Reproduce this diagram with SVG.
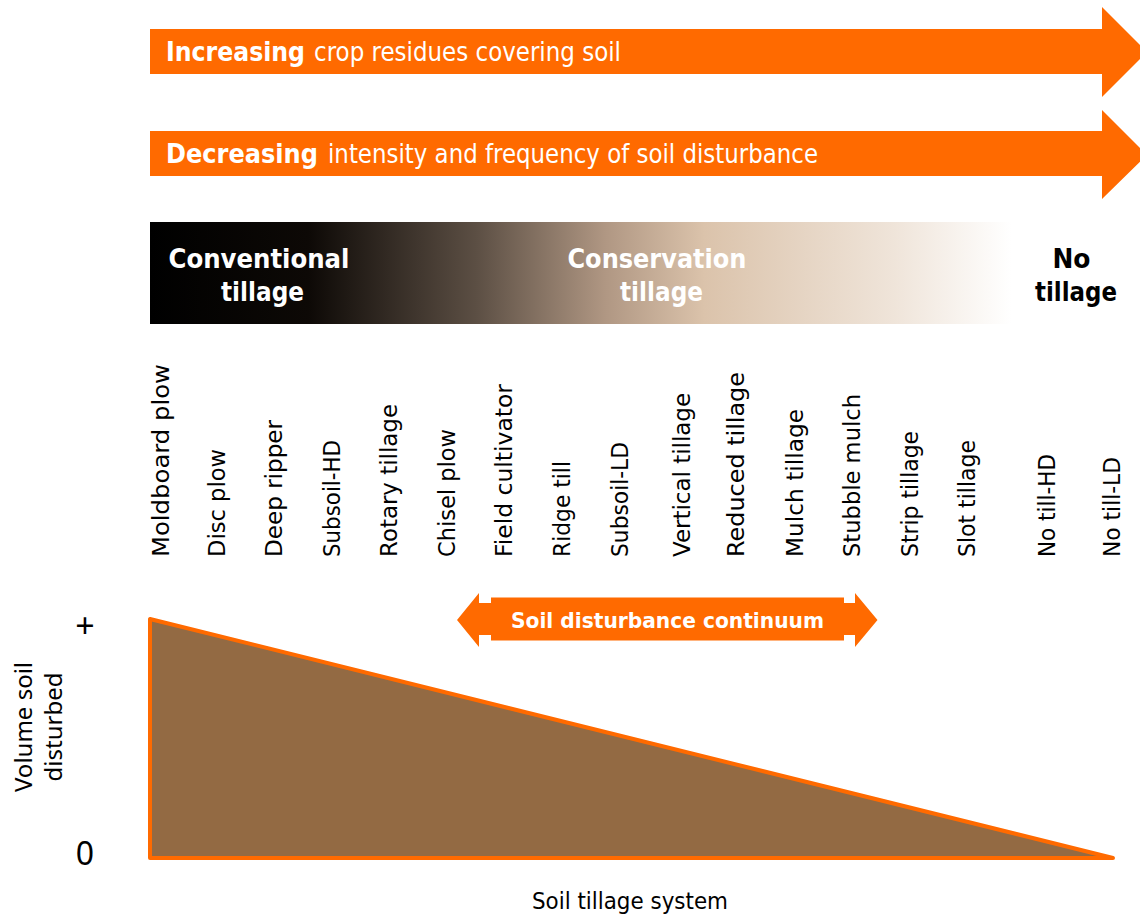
<svg xmlns="http://www.w3.org/2000/svg" width="1140" height="916" viewBox="0 0 1140 916">
  <style>
    .orange { fill: #ff6a00; }
    .band { font-family: "DejaVu Sans", "Liberation Sans", sans-serif; fill: #ffffff; }
    .bold { font-weight: bold; }
    .zone { font-family: "DejaVu Sans", "Liberation Sans", sans-serif; font-weight: bold; font-size: 26px; text-anchor: middle; }
    .sys { font-family: "DejaVu Sans", "Liberation Sans", sans-serif; font-size: 23px; fill: #000000; }
    .axis { font-family: "Noto Sans", "Liberation Sans", sans-serif; fill: #000000; }
  </style>
  <defs>
    <linearGradient id="tillGrad" x1="150" y1="0" x2="1140" y2="0" gradientUnits="userSpaceOnUse">
      <stop offset="0" stop-color="#000000"/>
      <stop offset="0.16" stop-color="#0d0906"/>
      <stop offset="0.33" stop-color="#5c4f44"/>
      <stop offset="0.46" stop-color="#b09783"/>
      <stop offset="0.56" stop-color="#dbc3ab"/>
      <stop offset="0.75" stop-color="#efe4d9"/>
      <stop offset="0.87" stop-color="#ffffff"/>
      <stop offset="1" stop-color="#ffffff"/>
    </linearGradient>
  </defs>

  <rect width="1140" height="916" fill="#ffffff"/>

  <!-- trend arrows -->
  <g id="arrow-residues">
    <polygon class="orange" points="150,29 1102,29 1102,7 1147,52 1102,97 1102,74 150,74"/>
    <text class="band" y="61" font-size="26">
      <tspan class="bold" x="166" textLength="139" lengthAdjust="spacingAndGlyphs">Increasing</tspan>
      <tspan x="314" textLength="307" lengthAdjust="spacingAndGlyphs">crop residues covering soil</tspan>
    </text>
  </g>
  <g id="arrow-disturbance">
    <polygon class="orange" points="150,131 1102,131 1102,110 1147,155 1102,199 1102,176 150,176"/>
    <text class="band" y="163" font-size="26">
      <tspan class="bold" x="166" textLength="152" lengthAdjust="spacingAndGlyphs">Decreasing</tspan>
      <tspan x="328" textLength="490" lengthAdjust="spacingAndGlyphs">intensity and frequency of soil disturbance</tspan>
    </text>
  </g>

  <!-- tillage category band -->
  <g id="tillage-band">
    <rect x="150" y="222" width="990" height="102" fill="url(#tillGrad)"/>
    <text class="zone" fill="#ffffff">
      <tspan x="263.5" y="268" textLength="181" lengthAdjust="spacingAndGlyphs">Conventional</tspan>
      <tspan x="262.5" y="301" textLength="83" lengthAdjust="spacingAndGlyphs">tillage</tspan>
    </text>
    <text class="zone" fill="#ffffff">
      <tspan x="661.5" y="268" textLength="179" lengthAdjust="spacingAndGlyphs">Conservation</tspan>
      <tspan x="661.5" y="301" textLength="83" lengthAdjust="spacingAndGlyphs">tillage</tspan>
    </text>
    <text class="zone" fill="#000000">
      <tspan x="1076" y="268" textLength="38" lengthAdjust="spacingAndGlyphs">No</tspan>
      <tspan x="1076" y="301" textLength="82" lengthAdjust="spacingAndGlyphs">tillage</tspan>
    </text>
  </g>

  <!-- tillage systems, ordered by disturbance -->
  <g id="systems">
    <text class="sys" transform="translate(169,557) rotate(-90)" textLength="193" lengthAdjust="spacingAndGlyphs">Moldboard plow</text>
    <text class="sys" transform="translate(225,557) rotate(-90)" textLength="108" lengthAdjust="spacingAndGlyphs">Disc plow</text>
    <text class="sys" transform="translate(282,557) rotate(-90)" textLength="137" lengthAdjust="spacingAndGlyphs">Deep ripper</text>
    <text class="sys" transform="translate(340,557) rotate(-90)" textLength="117" lengthAdjust="spacingAndGlyphs">Subsoil-HD</text>
    <text class="sys" transform="translate(397,557) rotate(-90)" textLength="153" lengthAdjust="spacingAndGlyphs">Rotary tillage</text>
    <text class="sys" transform="translate(455,557) rotate(-90)" textLength="128" lengthAdjust="spacingAndGlyphs">Chisel plow</text>
    <text class="sys" transform="translate(512,557) rotate(-90)" textLength="173" lengthAdjust="spacingAndGlyphs">Field cultivator</text>
    <text class="sys" transform="translate(570,557) rotate(-90)" textLength="96" lengthAdjust="spacingAndGlyphs">Ridge till</text>
    <text class="sys" transform="translate(628,557) rotate(-90)" textLength="115" lengthAdjust="spacingAndGlyphs">Subsoil-LD</text>
    <text class="sys" transform="translate(690,557) rotate(-90)" textLength="164" lengthAdjust="spacingAndGlyphs">Vertical tillage</text>
    <text class="sys" transform="translate(744,557) rotate(-90)" textLength="185" lengthAdjust="spacingAndGlyphs">Reduced tillage</text>
    <text class="sys" transform="translate(803,557) rotate(-90)" textLength="148" lengthAdjust="spacingAndGlyphs">Mulch tillage</text>
    <text class="sys" transform="translate(860,557) rotate(-90)" textLength="163" lengthAdjust="spacingAndGlyphs">Stubble mulch</text>
    <text class="sys" transform="translate(918,557) rotate(-90)" textLength="126" lengthAdjust="spacingAndGlyphs">Strip tillage</text>
    <text class="sys" transform="translate(975,557) rotate(-90)" textLength="117" lengthAdjust="spacingAndGlyphs">Slot tillage</text>
    <text class="sys" transform="translate(1055,557) rotate(-90)" textLength="103" lengthAdjust="spacingAndGlyphs">No till-HD</text>
    <text class="sys" transform="translate(1120,557) rotate(-90)" textLength="100" lengthAdjust="spacingAndGlyphs">No till-LD</text>
  </g>

  <!-- continuum double arrow -->
  <g id="continuum">
    <polygon class="orange" points="457,620 479,593 479,603 855,603 855,593 877.5,620 855,647 855,635 479,635 479,647"/>
    <rect class="orange" x="491" y="597.5" width="353" height="43"/>
    <text class="band bold" x="511" y="628" font-size="22" textLength="313" lengthAdjust="spacingAndGlyphs">Soil disturbance continuum</text>
  </g>

  <!-- disturbance wedge -->
  <g id="wedge">
    <polygon points="150,619 150,858 1113,858" fill="#936a43" stroke="#ff6a00" stroke-width="4" stroke-linejoin="round"/>
  </g>

  <!-- axis labels -->
  <g id="axis-labels">
    <text class="axis" x="85" y="638" font-size="34" text-anchor="middle">+</text>
    <text class="axis" x="85" y="865" font-size="32" text-anchor="middle">0</text>
    <text class="axis" font-size="24" text-anchor="middle" transform="translate(32,727) rotate(-90)">Volume soil</text>
    <text class="axis" font-size="24" text-anchor="middle" transform="translate(62,727) rotate(-90)">disturbed</text>
    <text class="sys" x="532" y="909" font-size="22" textLength="196" lengthAdjust="spacingAndGlyphs">Soil tillage system</text>
  </g>
</svg>
